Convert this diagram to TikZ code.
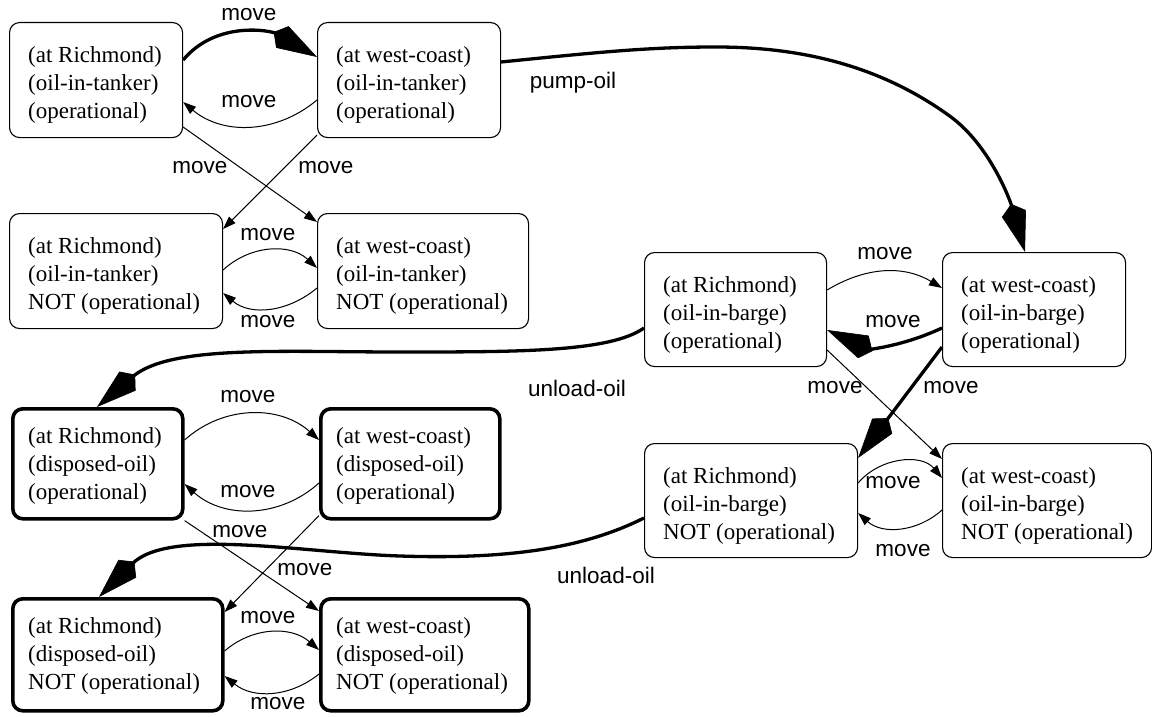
\documentclass[tikz,border=0pt]{standalone}
\usepackage{fontspec}
\setmainfont{Liberation Serif}
\setsansfont{Liberation Sans}
\usetikzlibrary{arrows.meta,calc}

\tikzset{
  state/.style={draw=black, line width=1.1pt, rounded corners=10pt, inner sep=0pt, anchor=north west},
  goalstate/.style={state, line width=3.6pt},
  facts/.style={anchor=north west, inner sep=0pt, align=left, font=\fontsize{23}{28}\selectfont},
  lbl/.style={inner sep=0pt, font=\sffamily\fontsize{22.5}{27}\selectfont},
  thinarrow/.style={line width=1pt, -{Triangle[length=13pt,width=9pt]}},
  heavyarrow/.style={line width=3.3pt, -{Kite[length=50pt,width=25pt,inset=10pt,line width=0.6pt]}},
}

\begin{document}
\begin{tikzpicture}[x=1pt,y=1pt]
\fill[white] (0,0) rectangle (1152,-717);
\useasboundingbox (0,0) rectangle (1152,-717);

% ---- tanker states ----
\node[state, minimum width=173pt, minimum height=115pt] (A1) at (9,-22) {};
\node[state, minimum width=183pt, minimum height=115pt] (B1) at (317,-22) {};
\node[state, minimum width=213pt, minimum height=115pt] (A2) at (9,-213) {};
\node[state, minimum width=211pt, minimum height=115pt] (B2) at (317,-213) {};
% ---- barge states ----
\node[state, minimum width=182pt, minimum height=114pt] (A3) at (644,-252) {};
\node[state, minimum width=183pt, minimum height=114pt] (B3) at (942,-252) {};
\node[state, minimum width=213pt, minimum height=114pt] (A4) at (644,-443) {};
\node[state, minimum width=209pt, minimum height=114pt] (B4) at (942,-443) {};
% ---- disposed (goal) states ----
\node[goalstate, minimum width=170pt, minimum height=110pt] (A5) at (11,-407) {};
\node[goalstate, minimum width=179pt, minimum height=110pt] (B5) at (319,-407) {};
\node[goalstate, minimum width=210pt, minimum height=112pt] (A6) at (11,-597) {};
\node[goalstate, minimum width=208pt, minimum height=112pt] (B6) at (319,-597) {};

% ---- state contents ----
\node[facts] (A1t) at ($(A1.north west)+(19,-24.3)$) {(at Richmond)\\(oil-in-tanker)\\(operational)};
\node[facts] (B1t) at ($(B1.north west)+(19,-24.3)$) {(at west-coast)\\(oil-in-tanker)\\(operational)};
\node[facts] (A2t) at ($(A2.north west)+(19,-24.3)$) {(at Richmond)\\(oil-in-tanker)\\NOT (operational)};
\node[facts] (B2t) at ($(B2.north west)+(19,-24.3)$) {(at west-coast)\\(oil-in-tanker)\\NOT (operational)};
\node[facts] (A3t) at ($(A3.north west)+(19,-24.3)$) {(at Richmond)\\(oil-in-barge)\\(operational)};
\node[facts] (B3t) at ($(B3.north west)+(19,-24.3)$) {(at west-coast)\\(oil-in-barge)\\(operational)};
\node[facts] (A4t) at ($(A4.north west)+(19,-24.3)$) {(at Richmond)\\(oil-in-barge)\\NOT (operational)};
\node[facts] (B4t) at ($(B4.north west)+(19,-24.3)$) {(at west-coast)\\(oil-in-barge)\\NOT (operational)};
\node[facts] (A5t) at ($(A5.north west)+(17,-20.8)$) {(at Richmond)\\(disposed-oil)\\(operational)};
\node[facts] (B5t) at ($(B5.north west)+(17,-20.8)$) {(at west-coast)\\(disposed-oil)\\(operational)};
\node[facts] (A6t) at ($(A6.north west)+(17,-20.8)$) {(at Richmond)\\(disposed-oil)\\NOT (operational)};
\node[facts] (B6t) at ($(B6.north west)+(17,-20.8)$) {(at west-coast)\\(disposed-oil)\\NOT (operational)};

% ---- tanker transitions ----
\draw[heavyarrow] ($(A1.north east)+(0,-38)$) to[out=50,in=150] ($(B1.north west)+(0,-35)$);
\draw[thinarrow] ($(B1.north west)+(0,-78)$) to[out=220,in=-40] ($(A1.north east)+(0,-80)$);
\draw[thinarrow] ($(A1.north east)+(0,-105)$) -- ($(B2.north west)+(0,-9)$);
\draw[thinarrow] ($(B1.south west)+(0,3)$) -- ($(A2.north east)+(0,-16)$);
\draw[thinarrow] ($(A2.north east)+(0,-57)$) to[out=43,in=137] ($(B2.north west)+(0,-55)$);
\draw[thinarrow] ($(B2.north west)+(0,-75)$) to[out=220,in=-40] ($(A2.north east)+(0,-80)$);

% ---- pump-oil ----
\draw[heavyarrow] ($(B1.north east)+(0,-40)$)
  .. controls (600,-52) and (650,-47) .. (716,-47)
  .. controls (800,-47) and (880,-65) .. (951,-117)
  .. controls (990,-146) and (1010,-200) .. ($(B3.north west)+(83,0)$);

% ---- barge transitions ----
\draw[thinarrow] ($(A3.north east)+(0,-38)$) to[out=31,in=149] ($(B3.north west)+(0,-36)$);
\draw[heavyarrow] ($(B3.north west)+(0,-76)$) to[out=205,in=-25] ($(A3.north east)+(0,-78)$);
\draw[thinarrow] ($(A3.north east)+(0,-98)$) -- ($(B4.north west)+(0,-16)$);
\draw[heavyarrow] ($(B3.north west)+(0,-95)$) -- ($(A4.north east)+(0,-15)$);
\draw[thinarrow] ($(A4.north east)+(0,-40)$) to[out=50,in=130] ($(B4.north west)+(0,-35)$);
\draw[thinarrow] ($(B4.north west)+(0,-67)$) to[out=222,in=-42] ($(A4.north east)+(0,-70)$);

% ---- unload-oil ----
\draw[heavyarrow] ($(A3.north west)+(0,-76)$)
  .. controls (610,-352) and (520,-352) .. (400,-352)
  .. controls (280,-352) and (170,-345) .. ($(A5.north west)+(86,0)$);
\draw[heavyarrow] ($(A4.north west)+(0,-75)$)
  .. controls (590,-545) and (520,-560) .. (400,-556)
  .. controls (304,-553) and (169,-527) .. ($(A6.north west)+(88,0)$);

% ---- disposed transitions ----
\draw[thinarrow] ($(A5.north east)+(0,-33)$) to[out=42,in=138] ($(B5.north west)+(0,-33)$);
\draw[thinarrow] ($(B5.north west)+(0,-76)$) to[out=222,in=-42] ($(A5.north east)+(0,-77)$);
\draw[thinarrow] (A5.south east) -- ($(B6.north west)+(0,-14)$);
\draw[thinarrow] ($(B5.south west)+(0,5)$) -- ($(A6.north east)+(0,-15)$);
\draw[thinarrow] ($(A6.north east)+(0,-54)$) to[out=41,in=139] ($(B6.north west)+(0,-53)$);
\draw[thinarrow] ($(B6.north west)+(0,-77)$) to[out=219,in=-39] ($(A6.north east)+(0,-79)$);

% ---- transition labels ----
\node[lbl] (m1) at (249,-15) {move};
\node[lbl] (m2) at (249,-102) {move};
\node[lbl] (m3) at (200,-168) {move};
\node[lbl] (m4) at (326,-168) {move};
\node[lbl] (m5) at (268,-235) {move};
\node[lbl] (m6) at (268,-322) {move};
\node[lbl] (m7) at (885,-254) {move};
\node[lbl] (m8) at (893,-322) {move};
\node[lbl] (m9) at (835,-388) {move};
\node[lbl] (m10) at (951,-388) {move};
\node[lbl] (m11) at (893,-483) {move};
\node[lbl] (m12) at (903,-551) {move};
\node[lbl] (m13) at (248,-397) {move};
\node[lbl] (m14) at (248,-492) {move};
\node[lbl] (m15) at (240,-532) {move};
\node[lbl] (m16) at (305,-570) {move};
\node[lbl] (m17) at (268,-618) {move};
\node[lbl] (m18) at (278,-704) {move};
\node[lbl] (p1) at (573,-83) {pump-oil};
\node[lbl] (u1) at (577,-388) {unload-oil};
\node[lbl] (u2) at (606,-575) {unload-oil};
\end{tikzpicture}
\end{document}
